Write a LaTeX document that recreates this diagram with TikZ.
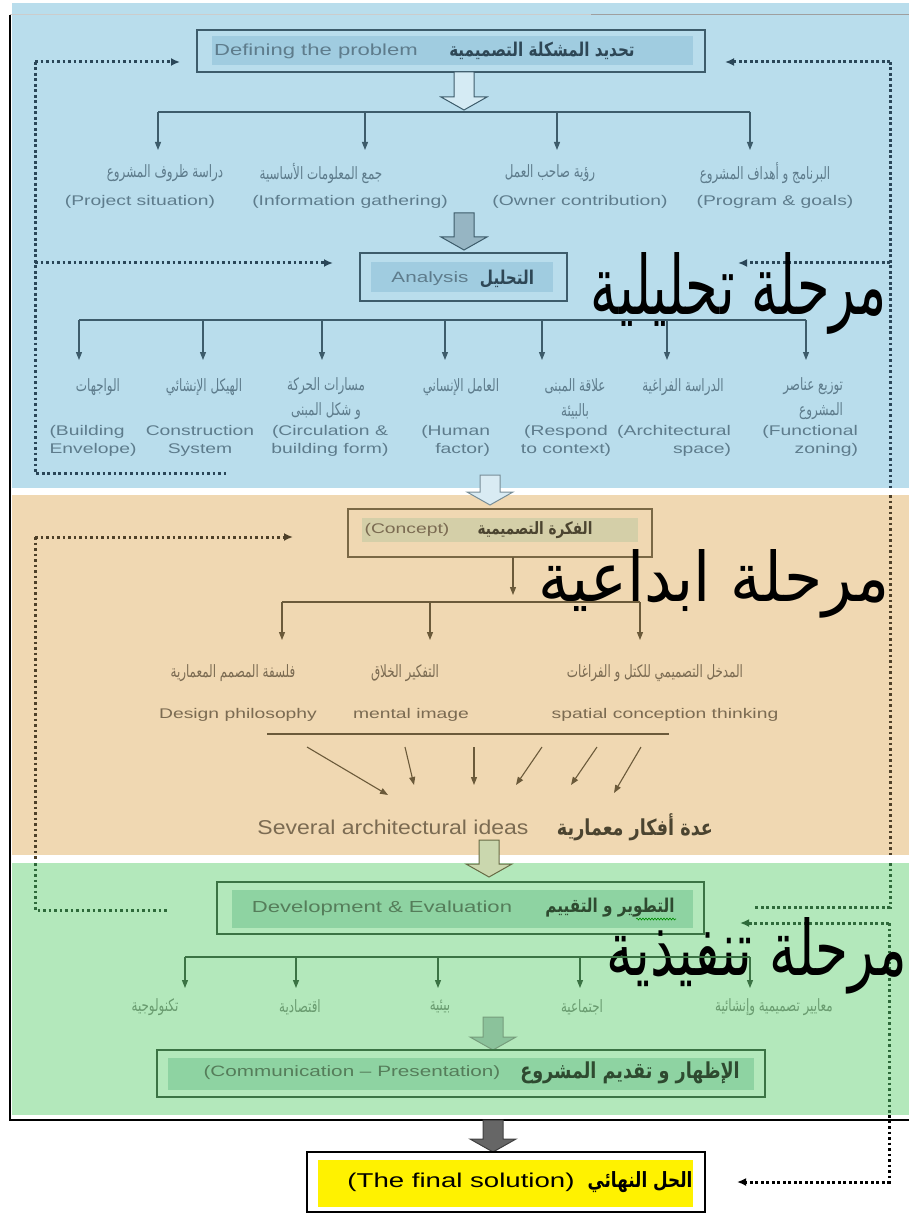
\documentclass[tikz,border=0pt]{standalone}
\usepackage{fontspec}
\usepackage{graphicx}
\setmainfont{Liberation Sans}
\newfontfamily\en[FakeStretch=1.38]{Liberation Sans}
\newfontfamily\enn[FakeStretch=1.15]{Liberation Sans}
\newfontfamily\ar[Script=Arabic]{DejaVu Sans}
\newfontfamily\arn[Script=Arabic,FakeStretch=0.8]{DejaVu Sans}
\newfontfamily\arc[Script=Arabic,FakeStretch=0.7]{DejaVu Sans}
\TeXXeTstate=1
\usetikzlibrary{arrows.meta,decorations.pathmorphing}
\definecolor{bluebg}{HTML}{B9DDEC}
\definecolor{bluein}{HTML}{A0CCE0}
\definecolor{bluebd}{HTML}{3D5C6B}
\definecolor{bluetxt}{HTML}{5E7C8C}
\definecolor{bluedark}{HTML}{2E4756}
\definecolor{bluedot}{HTML}{2A4658}
\definecolor{orbg}{HTML}{F0D8B2}
\definecolor{orin}{HTML}{D4CFA8}
\definecolor{orbd}{HTML}{7A6845}
\definecolor{ortxt}{HTML}{7B6B52}
\definecolor{ordark}{HTML}{4B4430}
\definecolor{browndot}{HTML}{6B5A3A}
\definecolor{browndd}{HTML}{4E4028}
\definecolor{grbg}{HTML}{B3E8BB}
\definecolor{grin}{HTML}{8ED3A2}
\definecolor{grbd}{HTML}{3B7344}
\definecolor{grtxt}{HTML}{6A9C70}
\definecolor{grdark}{HTML}{2E4A30}
\definecolor{greendot}{HTML}{2E6A3A}
\definecolor{yel}{HTML}{FFF200}
\newcommand{\artxt}[1]{\beginR #1\endR}
\newcommand{\blockarrow}[5]{\draw[line width=1pt,draw=#5,fill=#4] (#1-10,#2) -- (#1+10,#2) -- (#1+10,#3-13) -- (#1+23,#3-13) -- (#1,#3) -- (#1-23,#3-13) -- (#1-10,#3-13) -- cycle;}
\tikzset{
  en14/.style={font=\en\fontsize{14}{18}\selectfont},
  ar12/.style={font=\arc\fontsize{17}{25}\selectfont},
  dotl/.style={line width=3pt, dash pattern=on 2.8pt off 2.7pt},
  dtip/.style={-{Latex[length=9pt,width=8pt]}},
  treearr/.style={-{Triangle[length=8pt,width=6pt]}, line width=1.1pt},
}
\begin{document}
\begin{tikzpicture}[x=1pt,y=-1pt, every node/.style={inner sep=0pt, outer sep=0pt}]
\useasboundingbox (0,0) rectangle (909,1214);
% backgrounds
\fill[bluebg] (12,3) rectangle (909,488);
\fill[orbg] (12,495) rectangle (909,855);
\fill[grbg] (12,863) rectangle (909,1115);
\draw[gray!40, line width=1pt] (10,15) -- (591,15);
\draw[gray!75, line width=1pt] (591,15) -- (909,15);
\draw[black, line width=1.3pt] (10,15) -- (10,1120) -- (909,1120);

% ---------- dotted feedback lines
\draw[dotl,bluedot,dtip] (35,62) -- (180,62);
\draw[dotl,bluedot] (35,62) -- (35,473) -- (227,473);
\draw[dotl,bluedot,dtip] (35,263) -- (333,263);
\draw[dotl,browndd,dtip] (35,537) -- (293,537);
\draw[dotl,browndd] (35,537) -- (35,860);
\draw[dotl,greendot] (35,863) -- (35,910) -- (167,910);
\draw[dotl,bluedot,dtip] (890,62) -- (725,62);
\draw[dotl,bluedot] (890,62) -- (890,488);
\draw[dotl,bluedot,dtip] (890,263) -- (738,263);
\draw[dotl,browndd] (890,495) -- (890,855);
\draw[dotl,greendot] (890,863) -- (890,907) -- (753,907);
\draw[dotl,greendot,dtip] (889,923) -- (740,923);
\draw[dotl,greendot] (889,923) -- (889,1115);
\draw[dotl,black,dtip] (889,1115) -- (889,1182) -- (737,1182);

% ---------- Defining the problem
\node[draw=bluebd, line width=1.3pt, minimum width=508pt, minimum height=42pt] (defo) at (451,51) {};
\node[fill=bluein, minimum width=481pt, minimum height=29pt] (defi) at (452.5,50.5) {};
\node[text=bluetxt, font=\en\fontsize{16}{18}\selectfont] (defe) at (316,51) {Defining the problem};
\node[text=bluedark, font=\arn\bfseries\fontsize{19}{20}\selectfont] (defa) at (542,51) {\artxt{تحديد المشكلة التصميمية}};
\blockarrow{464}{72}{110}{bluebg!60!white}{bluebd}
\draw[line width=1.1pt,bluebd] (158,112) -- (750,112);
\foreach \x in {158,365,557,750} \draw[treearr,bluebd] (\x,112) -- (\x,150);
\node[ar12,text=bluetxt] (p1a) at (165,173) {\artxt{دراسة ظروف المشروع}};
\node[en14,text=bluetxt] (p1e) at (140,202) {(Project situation)};
\node[ar12,text=bluetxt] (p2a) at (321,173) {\artxt{جمع المعلومات الأساسية}};
\node[en14,text=bluetxt] (p2e) at (350,202) {(Information gathering)};
\node[ar12,text=bluetxt] (p3a) at (550,173) {\artxt{رؤية صاحب العمل}};
\node[en14,text=bluetxt] (p3e) at (580,202) {(Owner contribution)};
\node[ar12,text=bluetxt] (p4a) at (765,173) {\artxt{البرنامج و أهداف المشروع}};
\node[en14,text=bluetxt] (p4e) at (775,202) {(Program \& goals)};
\blockarrow{464}{213}{250}{bluein!70!gray}{bluebd}

% ---------- Analysis
\node[draw=bluebd, line width=1.3pt, minimum width=207pt, minimum height=48pt] (anao) at (463.5,277) {};
\node[fill=bluein, minimum width=182pt, minimum height=30pt] (anai) at (462,277) {};
\node[text=bluetxt, font=\en\fontsize{15}{18}\selectfont] (anae) at (430,279) {Analysis};
\node[text=bluedark, font=\arn\bfseries\fontsize{19}{20}\selectfont] (anaa) at (507,279) {\artxt{التحليل}};
\node (big1) at (739,293) {\resizebox{296pt}{62pt}{\ar\artxt{مرحلة تحليلية}}};
\draw[line width=1.1pt,bluebd] (79,320) -- (806,320);
\foreach \x in {79,203,322,445,542,667,806} \draw[treearr,bluebd] (\x,320) -- (\x,360);
\node[ar12,text=bluetxt] (q1a) at (98,387) {\artxt{الواجهات}};
\node[en14,text=bluetxt,align=left] (q1e) at (93,441) {(Building\\Envelope)};
\node[ar12,text=bluetxt] (q2a) at (204,387) {\artxt{الهيكل الإنشائي}};
\node[en14,text=bluetxt,align=center] (q2e) at (200,441) {Construction\\System};
\node[ar12,text=bluetxt,align=center] (q3a) at (326,399) {\artxt{مسارات الحركة}\\\artxt{و شكل المبنى}};
\node[en14,text=bluetxt,align=center] (q3e) at (330,441) {(Circulation \&\\building form)};
\node[ar12,text=bluetxt] (q4a) at (461,387) {\artxt{العامل الإنساني}};
\node[en14,text=bluetxt,align=right,anchor=east] (q4e) at (490,441) {(Human\\factor)};
\node[ar12,text=bluetxt,align=center] (q5a) at (575,399) {\artxt{علاقة المبنى}\\\artxt{بالبيئة}};
\node[en14,text=bluetxt,align=center] (q5e) at (566,441) {(Respond\\to context)};
\node[ar12,text=bluetxt] (q6a) at (683,387) {\artxt{الدراسة الفراغية}};
\node[en14,text=bluetxt,align=right,anchor=east] (q6e) at (731,441) {(Architectural\\space)};
\node[ar12,text=bluetxt,align=right,anchor=east] (q7a) at (843,399) {\artxt{توزيع عناصر}\\\artxt{المشروع}};
\node[en14,text=bluetxt,align=right,anchor=east] (q7e) at (858,441) {(Functional\\zoning)};
\blockarrow{490}{475}{505}{bluein!40!white}{bluebd!70!white}

% ---------- Concept
\node[draw=orbd, line width=1.3pt, minimum width=304pt, minimum height=48pt] (cono) at (500,533) {};
\node[fill=orin, minimum width=276pt, minimum height=24pt] (coni) at (500,530) {};
\node[text=ortxt, font=\en\fontsize{14}{17}\selectfont] (cone) at (407,530) {(Concept)};
\node[text=ordark, font=\arn\bfseries\fontsize{17}{18}\selectfont] (cona) at (535,530) {\artxt{الفكرة التصميمية}};
\node (big2) at (714,584) {\resizebox{351pt}{52pt}{\ar\artxt{مرحلة ابداعية}}};
\draw[treearr,browndot] (513,557) -- (513,595);
\draw[line width=1.1pt,browndot] (282,602) -- (640,602);
\foreach \x in {282,430,640} \draw[treearr,browndot] (\x,602) -- (\x,640);
\node[ar12,text=ortxt] (r1a) at (233,673) {\artxt{فلسفة المصمم المعمارية}};
\node[en14,text=ortxt] (r1e) at (238,715) {Design philosophy};
\node[ar12,text=ortxt] (r2a) at (405,673) {\artxt{التفكير الخلاق}};
\node[en14,text=ortxt] (r2e) at (411,715) {mental image};
\node[ar12,text=ortxt] (r3a) at (655,673) {\artxt{المدخل التصميمي للكتل و الفراغات}};
\node[en14,text=ortxt] (r3e) at (665,715) {spatial conception thinking};
\draw[line width=1.1pt,browndot] (267,734) -- (669,734);
\draw[treearr,browndot] (307,747) -- (388,795);
\draw[treearr,browndot] (405,747) -- (414,785);
\draw[treearr,browndot] (474,747) -- (474,785);
\draw[treearr,browndot] (542,747) -- (516,785);
\draw[treearr,browndot] (597,747) -- (571,785);
\draw[treearr,browndot] (641,747) -- (614,793);
\node[text=ortxt, font=\enn\fontsize{20}{24}\selectfont] (seve) at (393,827) {Several architectural ideas};
\node[text=ordark, font=\arn\bfseries\fontsize{22}{24}\selectfont] (seva) at (635,827) {\artxt{عدة أفكار معمارية}};
\blockarrow{489}{840}{877}{orin!70!grbg}{orbd!70!grbd}

% ---------- Development
\node[draw=grbd, line width=1.3pt, minimum width=487pt, minimum height=52pt] (devo) at (460.5,908) {};
\node[fill=grin, minimum width=461pt, minimum height=38pt] (devi) at (462.5,909) {};
\node[text=grtxt!80!black, font=\en\fontsize{16}{19}\selectfont] (deve) at (382,908) {Development \& Evaluation};
\node[text=grdark, font=\arn\bfseries\fontsize{19}{20}\selectfont] (deva) at (610,908) {\artxt{التطوير و التقييم}};
\draw[decorate, decoration={snake, amplitude=1pt, segment length=3pt}, green!55!black, line width=0.6pt] (636,919) -- (676,919);
\node (big3) at (757,956) {\resizebox{300pt}{58pt}{\ar\artxt{مرحلة تنفيذية}}};
\draw[line width=1.1pt,grbd] (185,957) -- (750,957);
\foreach \x in {185,296,438,580,750} \draw[treearr,grbd] (\x,957) -- (\x,988);
\node[ar12,text=grtxt] (s1) at (155,1007) {\artxt{تكنولوجية}};
\node[ar12,text=grtxt] (s2) at (300,1007) {\artxt{اقتصادية}};
\node[ar12,text=grtxt] (s3) at (440,1007) {\artxt{بيئية}};
\node[ar12,text=grtxt] (s4) at (582,1007) {\artxt{اجتماعية}};
\node[ar12,text=grtxt] (s5) at (774,1007) {\artxt{معايير تصميمية وإنشائية}};
\blockarrow{493}{1017}{1050}{grin!80!gray}{grbd!70!white}

% ---------- Communication
\node[draw=grbd, line width=1.3pt, minimum width=608pt, minimum height=47pt] (como) at (461,1073.5) {};
\node[fill=grin, minimum width=586pt, minimum height=32pt] (comi) at (461,1074) {};
\node[text=grtxt!80!black, font=\en\fontsize{15}{18}\selectfont] (come) at (352,1073) {(Communication – Presentation)};
\node[text=grdark, font=\arn\bfseries\fontsize{22}{24}\selectfont] (coma) at (630,1073) {\artxt{الإظهار و تقديم المشروع}};
\blockarrow{493}{1120}{1152}{gray!80!black}{gray!50!black}

% ---------- Final solution
\node[draw=black, fill=white, line width=1.2pt, minimum width=398pt, minimum height=60pt] (fino) at (506,1182) {};
\node[fill=yel, minimum width=375pt, minimum height=47pt] (fini) at (505.5,1183.5) {};
\node[text=black, font=\en\fontsize{20}{22}\selectfont] (fine) at (461,1182) {(The final solution)};
\node[text=black, font=\arn\bfseries\fontsize{21}{22}\selectfont] (fina) at (640,1182) {\artxt{الحل النهائي}};
\end{tikzpicture}
\end{document}
